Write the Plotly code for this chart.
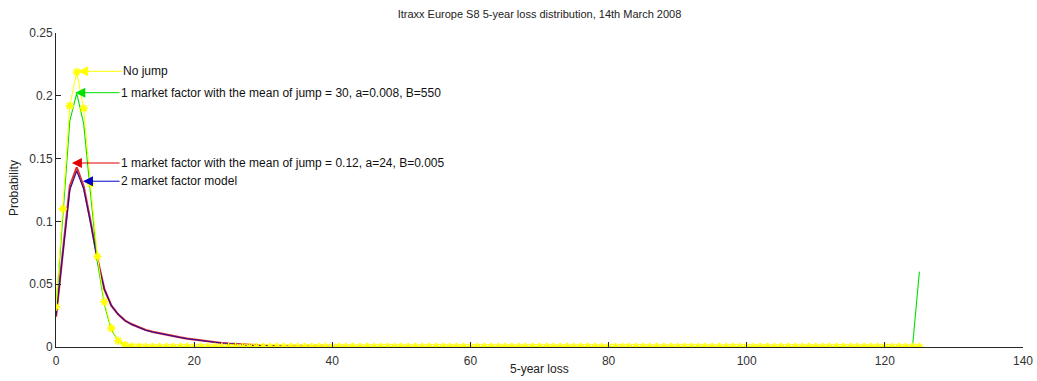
import plotly.graph_objects as go

# Number of defaults in the 125-name portfolio
losses = list(range(126))

# No jump model
p_nojump = [
    0.032, 0.110, 0.192, 0.219, 0.190, 0.130, 0.072, 0.036, 0.015, 0.005,
    0.0015, 0.0004, 0.0001, 0.0, 0.0, 0.0, 0.0, 0.0, 0.0, 0.0,
    0.0, 0.0, 0.0, 0.0, 0.0, 0.0, 0.0, 0.0, 0.0, 0.0,
    0.0, 0.0, 0.0, 0.0, 0.0, 0.0, 0.0, 0.0, 0.0, 0.0,
    0.0, 0.0, 0.0, 0.0, 0.0, 0.0, 0.0, 0.0, 0.0, 0.0,
    0.0, 0.0, 0.0, 0.0, 0.0, 0.0, 0.0, 0.0, 0.0, 0.0,
    0.0, 0.0, 0.0, 0.0, 0.0, 0.0, 0.0, 0.0, 0.0, 0.0,
    0.0, 0.0, 0.0, 0.0, 0.0, 0.0, 0.0, 0.0, 0.0, 0.0,
    0.0, 0.0, 0.0, 0.0, 0.0, 0.0, 0.0, 0.0, 0.0, 0.0,
    0.0, 0.0, 0.0, 0.0, 0.0, 0.0, 0.0, 0.0, 0.0, 0.0,
    0.0, 0.0, 0.0, 0.0, 0.0, 0.0, 0.0, 0.0, 0.0, 0.0,
    0.0, 0.0, 0.0, 0.0, 0.0, 0.0, 0.0, 0.0, 0.0, 0.0,
    0.0, 0.0, 0.0, 0.0, 0.0, 0.0,
]

# 1 market factor, mean of jump = 30, a=0.008, B=550
p_mf_jump30 = [
    0.030, 0.105, 0.180, 0.202, 0.178, 0.122, 0.068, 0.034, 0.014, 0.005,
    0.0015, 0.0004, 0.0001, 0.0, 0.0, 0.0, 0.0, 0.0, 0.0, 0.0,
    0.0, 0.0, 0.0, 0.0, 0.0, 0.0, 0.0, 0.0, 0.0, 0.0,
    0.0, 0.0, 0.0, 0.0, 0.0, 0.0, 0.0, 0.0, 0.0, 0.0,
    0.0, 0.0, 0.0, 0.0, 0.0, 0.0, 0.0, 0.0, 0.0, 0.0,
    0.0, 0.0, 0.0, 0.0, 0.0, 0.0, 0.0, 0.0, 0.0, 0.0,
    0.0, 0.0, 0.0, 0.0, 0.0, 0.0, 0.0, 0.0, 0.0, 0.0,
    0.0, 0.0, 0.0, 0.0, 0.0, 0.0, 0.0, 0.0, 0.0, 0.0,
    0.0, 0.0, 0.0, 0.0, 0.0, 0.0, 0.0, 0.0, 0.0, 0.0,
    0.0, 0.0, 0.0, 0.0, 0.0, 0.0, 0.0, 0.0, 0.0, 0.0,
    0.0, 0.0, 0.0, 0.0, 0.0, 0.0, 0.0, 0.0, 0.0, 0.0,
    0.0, 0.0, 0.0, 0.0, 0.0, 0.0, 0.0, 0.0, 0.0, 0.0,
    0.0, 0.0, 0.0, 0.0, 0.0, 0.060,
]

# 1 market factor, mean of jump = 0.12, a=24, B=0.005
p_mf_jump012 = [
    0.024, 0.078, 0.128, 0.143, 0.128, 0.100, 0.070, 0.046, 0.033, 0.026,
    0.021, 0.018, 0.0158, 0.0135, 0.0120, 0.0108, 0.0096, 0.0086, 0.0076, 0.0067,
    0.0059, 0.0051, 0.0044, 0.0038, 0.0032, 0.0027, 0.0023, 0.0019, 0.0016, 0.0013,
    0.0010, 0.0008, 0.0006, 0.0005, 0.0004, 0.0003, 0.0002, 0.00015, 0.0001, 0.00005,
    0.0, 0.0, 0.0, 0.0, 0.0, 0.0, 0.0, 0.0, 0.0, 0.0,
    0.0, 0.0, 0.0, 0.0, 0.0, 0.0, 0.0, 0.0, 0.0, 0.0,
    0.0, 0.0, 0.0, 0.0, 0.0, 0.0, 0.0, 0.0, 0.0, 0.0,
    0.0, 0.0, 0.0, 0.0, 0.0, 0.0, 0.0, 0.0, 0.0, 0.0,
    0.0, 0.0, 0.0, 0.0, 0.0, 0.0, 0.0, 0.0, 0.0, 0.0,
    0.0, 0.0, 0.0, 0.0, 0.0, 0.0, 0.0, 0.0, 0.0, 0.0,
    0.0, 0.0, 0.0, 0.0, 0.0, 0.0, 0.0, 0.0, 0.0, 0.0,
    0.0, 0.0, 0.0, 0.0, 0.0, 0.0, 0.0, 0.0, 0.0, 0.0,
    0.0, 0.0, 0.0, 0.0, 0.0, 0.0,
]

# 2 market factor model
p_two_factor = [
    0.025, 0.076, 0.125, 0.140, 0.126, 0.099, 0.069, 0.046, 0.033, 0.026,
    0.021, 0.018, 0.0157, 0.0134, 0.0119, 0.0107, 0.0095, 0.0085, 0.0075, 0.0066,
    0.0058, 0.0050, 0.0044, 0.0038, 0.0032, 0.0027, 0.0023, 0.0019, 0.0016, 0.0013,
    0.0010, 0.0008, 0.0006, 0.0005, 0.0004, 0.0003, 0.0002, 0.00015, 0.0001, 0.00005,
    0.0, 0.0, 0.0, 0.0, 0.0, 0.0, 0.0, 0.0, 0.0, 0.0,
    0.0, 0.0, 0.0, 0.0, 0.0, 0.0, 0.0, 0.0, 0.0, 0.0,
    0.0, 0.0, 0.0, 0.0, 0.0, 0.0, 0.0, 0.0, 0.0, 0.0,
    0.0, 0.0, 0.0, 0.0, 0.0, 0.0, 0.0, 0.0, 0.0, 0.0,
    0.0, 0.0, 0.0, 0.0, 0.0, 0.0, 0.0, 0.0, 0.0, 0.0,
    0.0, 0.0, 0.0, 0.0, 0.0, 0.0, 0.0, 0.0, 0.0, 0.0,
    0.0, 0.0, 0.0, 0.0, 0.0, 0.0, 0.0, 0.0, 0.0, 0.0,
    0.0, 0.0, 0.0, 0.0, 0.0, 0.0, 0.0, 0.0, 0.0, 0.0,
    0.0, 0.0, 0.0, 0.0, 0.0, 0.0,
]

# Arrow labels: text, colour, arrow head (x, y), text start x
labels = [
    ("No jump", "#FFFF00", 3.2, 0.2195, 9.6),
    ("1 market factor with the mean of jump = 30, a=0.008, B=550", "#00E000", 2.8, 0.2025, 9.2),
    ("1 market factor with the mean of jump = 0.12, a=24, B=0.005", "#E00000", 2.3, 0.1465, 9.2),
    ("2 market factor model", "#0000C8", 3.9, 0.132, 9.2),
]

x_ticks = [0, 20, 40, 60, 80, 100, 120, 140]
y_ticks = [0, 0.05, 0.1, 0.15, 0.2, 0.25]
y_tick_text = ["0", "0.05", "0.1", "0.15", "0.2", "0.25"]

FONT = "Liberation Sans, Arial, Helvetica, sans-serif"
AXIS = "#262626"

fig = go.Figure()
fig.add_trace(go.Scatter(x=losses, y=p_mf_jump012, mode="lines",
                         line=dict(color="#E03030", width=2.2)))
fig.add_trace(go.Scatter(x=losses, y=p_two_factor, mode="lines",
                         line=dict(color="#2A0A9A", width=1.1)))
fig.add_trace(go.Scatter(x=losses, y=p_mf_jump30, mode="lines",
                         line=dict(color="#00E000", width=1.1)))
fig.add_trace(go.Scatter(x=losses, y=p_nojump, mode="lines+markers",
                         line=dict(color="#FFFF00", width=1),
                         marker=dict(symbol="asterisk-open", size=7,
                                     color="#FFFF00",
                                     line=dict(color="#FFFF00", width=1.6))))

for text, color, hx, hy, tx in labels:
    fig.add_annotation(
        x=hx, y=hy, ax=tx, ay=hy, axref="x", ayref="y",
        text=text, showarrow=True, arrowhead=2, arrowsize=2,
        arrowwidth=1, arrowcolor=color, xanchor="left", yanchor="middle",
        font=dict(family=FONT, size=12, color="#111111"), borderpad=0,
    )

# Axis titles
fig.add_annotation(x=0.5, y=-34 / 314 - 0.0, xref="paper", yref="paper",
                   text="5-year loss", showarrow=False, xanchor="center",
                   yanchor="middle", yshift=12,
                   font=dict(family=FONT, size=12, color="#222222"))
fig.add_annotation(x=0, y=0.5 + 0.006, xref="paper", yref="paper",
                   text="Probability", showarrow=False, textangle=-90,
                   xanchor="center", yanchor="middle", xshift=-42,
                   font=dict(family=FONT, size=12, color="#222222"))

fig.update_layout(
    width=1037, height=381,
    margin=dict(l=56, r=14, t=33, b=34, autoexpand=False),
    paper_bgcolor="white", plot_bgcolor="white",
    showlegend=False,
    font=dict(family=FONT, size=12, color="#333333"),
    title=dict(text="Itraxx Europe S8 5-year loss distribution, 14th March 2008",
               x=(56 + 1023) / 2 / 1037, xanchor="center", y=0.963, yanchor="middle",
               font=dict(family=FONT, size=11, color="#222222")),
)
fig.update_xaxes(
    range=[0, 140], tickvals=x_ticks, showgrid=False, zeroline=False,
    showline=True, linecolor=AXIS, linewidth=1, ticks="inside",
    ticklen=5, tickcolor=AXIS, automargin=False, ticklabelstandoff=3,
    tickfont=dict(size=12, color="#333333"),
)
fig.update_yaxes(
    range=[0, 0.25], tickvals=y_ticks, ticktext=y_tick_text, showgrid=False,
    zeroline=False, showline=True, linecolor=AXIS, linewidth=1,
    ticks="inside", ticklen=5, tickcolor=AXIS, automargin=False,
    tickfont=dict(size=12, color="#333333"),
)

fig.write_html("out.html")
